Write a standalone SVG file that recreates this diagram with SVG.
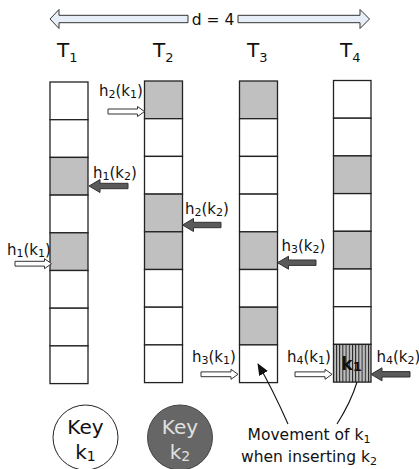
<svg xmlns="http://www.w3.org/2000/svg" width="419" height="469" viewBox="0 0 419 469">
<style>
text{font-family:"DejaVu Sans","Liberation Sans",sans-serif;fill:#111}
.lbl{font-size:15px}
.t{font-size:20px}
.cell{fill:#fff;stroke:#222;stroke-width:1.3}
.sh{fill:#c0c0c0;stroke:#222;stroke-width:1.3}
.wa{fill:#fff;stroke:#333;stroke-width:1}
.da{fill:#5a5a5a;stroke:#333;stroke-width:1}
.cv{fill:none;stroke:#111;stroke-width:1.1}
</style>
<defs>
<pattern id="hatch" width="3.2" height="10" patternUnits="userSpaceOnUse">
<rect width="3.2" height="10" fill="#bdbdbd"/>
<line x1="0.5" y1="0" x2="0.5" y2="10" stroke="#111" stroke-width="0.9"/>
</pattern>
<marker id="ah" viewBox="0 0 12 10" refX="11" refY="5" markerWidth="12" markerHeight="10" markerUnits="userSpaceOnUse" orient="auto">
<path d="M0,0 L12,5 L0,10 Z" fill="#111"/>
</marker>
</defs>

<g id="distance">
<path d="M188,15.3 L59,15.3 L59,9.5 L50,19 L59,28.5 L59,22.7 L188,22.7 Z" fill="#e8eef8" stroke="#333" stroke-width="1"/>
<path d="M238,15.3 L360,15.3 L360,9.5 L369.5,19 L360,28.5 L360,22.7 L238,22.7 Z" fill="#e8eef8" stroke="#333" stroke-width="1"/>
<text x="213" y="25" font-size="15.5" text-anchor="middle">d = 4</text>
</g>

<g id="T1">
<text class="t" x="57" y="57">T<tspan font-size="13" dy="5">1</tspan></text>
<rect class="cell" x="50" y="82" width="38" height="37.7"/>
<rect class="cell" x="50" y="119.7" width="38" height="37.7"/>
<rect class="sh" x="50" y="157.4" width="38" height="37.7"/>
<rect class="cell" x="50" y="195.1" width="38" height="37.7"/>
<rect class="sh" x="50" y="232.8" width="38" height="37.7"/>
<rect class="cell" x="50" y="270.5" width="38" height="37.7"/>
<rect class="cell" x="50" y="308.2" width="38" height="37.7"/>
<rect class="cell" x="50" y="345.9" width="38" height="37.7"/>
</g>

<g id="T2">
<text class="t" x="153" y="57">T<tspan font-size="13" dy="5">2</tspan></text>
<rect class="sh" x="144.5" y="81" width="38" height="37.7"/>
<rect class="cell" x="144.5" y="118.7" width="38" height="37.7"/>
<rect class="cell" x="144.5" y="156.4" width="38" height="37.7"/>
<rect class="sh" x="144.5" y="194.1" width="38" height="37.7"/>
<rect class="sh" x="144.5" y="231.8" width="38" height="37.7"/>
<rect class="cell" x="144.5" y="269.5" width="38" height="37.7"/>
<rect class="cell" x="144.5" y="307.2" width="38" height="37.7"/>
<rect class="cell" x="144.5" y="344.9" width="38" height="37.7"/>
</g>

<g id="T3">
<text class="t" x="247" y="57">T<tspan font-size="13" dy="5">3</tspan></text>
<rect class="sh" x="239.5" y="81" width="38" height="37.7"/>
<rect class="cell" x="239.5" y="118.7" width="38" height="37.7"/>
<rect class="cell" x="239.5" y="156.4" width="38" height="37.7"/>
<rect class="cell" x="239.5" y="194.1" width="38" height="37.7"/>
<rect class="sh" x="239.5" y="231.8" width="38" height="37.7"/>
<rect class="cell" x="239.5" y="269.5" width="38" height="37.7"/>
<rect class="sh" x="239.5" y="307.2" width="38" height="37.7"/>
<rect class="cell" x="239.5" y="344.9" width="38" height="37.7"/>
</g>

<g id="T4">
<text class="t" x="340" y="57">T<tspan font-size="13" dy="5">4</tspan></text>
<rect class="cell" x="333.5" y="80.5" width="37.5" height="37.7"/>
<rect class="cell" x="333.5" y="118.2" width="37.5" height="37.7"/>
<rect class="sh" x="333.5" y="155.9" width="37.5" height="37.7"/>
<rect class="cell" x="333.5" y="193.6" width="37.5" height="37.7"/>
<rect class="sh" x="333.5" y="231.3" width="37.5" height="37.7"/>
<rect class="cell" x="333.5" y="269" width="37.5" height="37.7"/>
<rect class="cell" x="333.5" y="306.7" width="37.5" height="37.7"/>
<rect x="333.5" y="344.4" width="37.5" height="37.7" fill="url(#hatch)" stroke="#222" stroke-width="1.3"/>
<text x="351.5" y="370" font-size="17" font-weight="bold" text-anchor="middle">k<tspan font-size="13" dy="1">1</tspan></text>
</g>

<g id="connectors">
<!-- h1(k1) -->
<text class="lbl" x="7" y="255">h<tspan font-size="11" dy="2">1</tspan><tspan dy="-2">(k</tspan><tspan font-size="11" dy="2">1</tspan><tspan dy="-2">)</tspan></text>
<path class="wa" d="M15,261.3 L44.5,261.3 L44.5,258.7 L51.5,263.7 L44.5,268.7 L44.5,266.1 L15,266.1 Z"/>
<!-- h1(k2) -->
<text class="lbl" x="93" y="178">h<tspan font-size="11" dy="2">1</tspan><tspan dy="-2">(k</tspan><tspan font-size="11" dy="2">2</tspan><tspan dy="-2">)</tspan></text>
<path class="da" d="M128,183.3 L100,183.3 L100,179.5 L89,186 L100,192.5 L100,188.7 L128,188.7 Z"/>
<!-- h2(k1) -->
<text class="lbl" x="99" y="96">h<tspan font-size="11" dy="2">2</tspan><tspan dy="-2">(k</tspan><tspan font-size="11" dy="2">1</tspan><tspan dy="-2">)</tspan></text>
<path class="wa" d="M108,109 L137.5,109 L137.5,106.5 L144.5,111.5 L137.5,116.5 L137.5,114 L108,114 Z"/>
<!-- h2(k2) -->
<text class="lbl" x="185" y="214">h<tspan font-size="11" dy="2">2</tspan><tspan dy="-2">(k</tspan><tspan font-size="11" dy="2">2</tspan><tspan dy="-2">)</tspan></text>
<path class="da" d="M221,222.3 L193.5,222.3 L193.5,218.5 L182.5,225 L193.5,231.5 L193.5,227.7 L221,227.7 Z"/>
<!-- h3(k2) -->
<text class="lbl" x="281.5" y="251">h<tspan font-size="11" dy="2">3</tspan><tspan dy="-2">(k</tspan><tspan font-size="11" dy="2">2</tspan><tspan dy="-2">)</tspan></text>
<path class="da" d="M316,260 L288.5,260 L288.5,256.2 L277.5,262.7 L288.5,269.2 L288.5,265.4 L316,265.4 Z"/>
<!-- h3(k1) -->
<text class="lbl" x="192" y="362">h<tspan font-size="11" dy="2">3</tspan><tspan dy="-2">(k</tspan><tspan font-size="11" dy="2">1</tspan><tspan dy="-2">)</tspan></text>
<path class="wa" d="M201,371.9 L231,371.9 L231,369.3 L238,374.3 L231,379.3 L231,376.7 L201,376.7 Z"/>
<!-- h4(k1) -->
<text class="lbl" x="287" y="362">h<tspan font-size="11" dy="2">4</tspan><tspan dy="-2">(k</tspan><tspan font-size="11" dy="2">1</tspan><tspan dy="-2">)</tspan></text>
<path class="wa" d="M295,371.9 L325,371.9 L325,369.3 L332,374.3 L325,379.3 L325,376.7 L295,376.7 Z"/>
<!-- h4(k2) -->
<text class="lbl" x="376.5" y="362">h<tspan font-size="11" dy="2">4</tspan><tspan dy="-2">(k</tspan><tspan font-size="11" dy="2">2</tspan><tspan dy="-2">)</tspan></text>
<path class="da" d="M410,371.6 L382,371.6 L382,367.8 L371,374.3 L382,380.8 L382,377 L410,377 Z"/>
<!-- movement curves -->
<path class="cv" d="M288,424 Q272,388 258,364" marker-end="url(#ah)"/>
<path class="cv" d="M337,424 Q351,402 357,382"/>
</g>

<g id="movement-note">
<text x="309" y="440" font-size="15.5" text-anchor="middle">Movement of k<tspan font-size="11" dy="3">1</tspan></text>
<text x="309" y="462" font-size="15.5" text-anchor="middle">when inserting k<tspan font-size="11" dy="3">2</tspan></text>
</g>

<g id="key1">
<circle cx="85.5" cy="437.5" r="32.5" fill="#fff" stroke="#222" stroke-width="1"/>
<text x="85.5" y="434" font-size="20" text-anchor="middle">Key</text>
<text x="85.5" y="459" font-size="20" text-anchor="middle">k<tspan font-size="14" dy="2">1</tspan></text>
</g>

<g id="key2">
<circle cx="180" cy="437.5" r="32.5" fill="#666" stroke="#444" stroke-width="1"/>
<text x="180" y="434" font-size="20" text-anchor="middle" style="fill:#e0e0e0">Key</text>
<text x="180" y="459" font-size="20" text-anchor="middle" style="fill:#e0e0e0">k<tspan font-size="14" dy="2">2</tspan></text>
</g>
</svg>
